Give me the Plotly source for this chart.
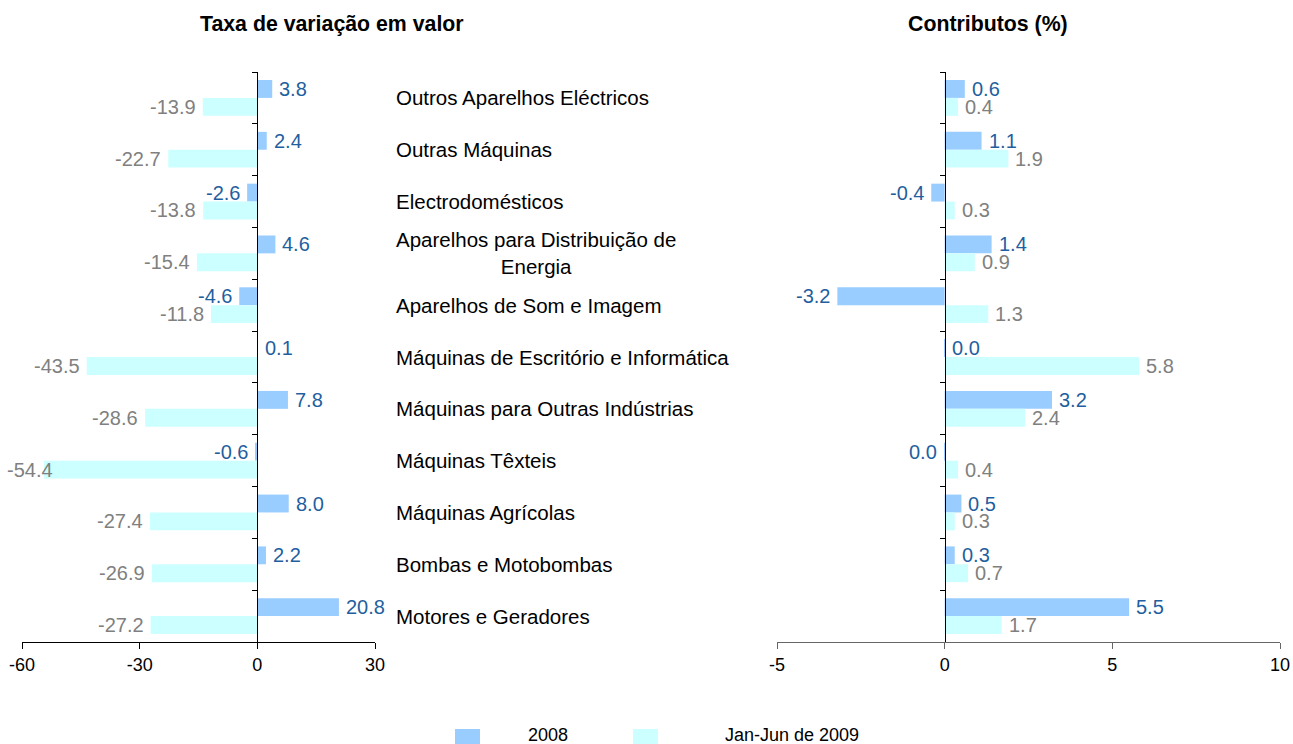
import plotly.graph_objects as go

categories = [
    "Outros Aparelhos Eléctricos",
    "Outras Máquinas",
    "Electrodomésticos",
    "Aparelhos para Distribuição de<br>Energia",
    "Aparelhos de Som e Imagem",
    "Máquinas de Escritório e Informática",
    "Máquinas para Outras Indústrias",
    "Máquinas Têxteis",
    "Máquinas Agrícolas",
    "Bombas e Motobombas",
    "Motores e Geradores",
]
cat_keys = [f"c{i}" for i in range(len(categories))]

taxa_2008 = [3.8, 2.4, -2.6, 4.6, -4.6, 0.1, 7.8, -0.6, 8.0, 2.2, 20.8]
taxa_2009 = [-13.9, -22.7, -13.8, -15.4, -11.8, -43.5, -28.6, -54.4, -27.4, -26.9, -27.2]
contrib_2008 = [0.6, 1.1, -0.4, 1.4, -3.2, 0.01, 3.2, -0.01, 0.5, 0.3, 5.5]
contrib_2009 = [0.4, 1.9, 0.3, 0.9, 1.3, 5.8, 2.4, 0.4, 0.3, 0.7, 1.7]

series_names = ["2008", "Jan-Jun de 2009"]
left_ticks = [-60, -30, 0, 30]
right_ticks = [-5, 0, 5, 10]

C2008 = "#99CCFF"
C2009 = "#CCFFFF"
LBL2008 = "#1F5FA0"
LBL2009 = "#808080"
FONT = "Liberation Sans, Arial, sans-serif"

W, H = 1293, 744
ML, MR, MT, MB = 22, 13, 72, 102
PW = W - ML - MR
PH = H - MT - MB
BARGAP = 0.31


def px_x(p):
    return (p - ML) / PW


def px_y(p):
    return (H - MB - p) / PH


def fmt(v):
    return "0.0" if round(v, 1) == 0 else f"{v:.1f}"


left_dom = [0, px_x(375)]
right_dom = [px_x(777), 1.0]
left_range = [-60, 30]
right_range = [-5, 10]
left_zero = left_dom[0] + (0 - left_range[0]) / (left_range[1] - left_range[0]) * (left_dom[1] - left_dom[0])
right_zero = right_dom[0] + (0 - right_range[0]) / (right_range[1] - right_range[0]) * (right_dom[1] - right_dom[0])

fig = go.Figure()
annotations = []
half = (1 - BARGAP) / 4  # centre offset of each bar within a category

for vals, col, lc, name, xa, ya, off, xr in [
    (taxa_2008, C2008, LBL2008, series_names[0], "x", "y", -half, left_range),
    (taxa_2009, C2009, LBL2009, series_names[1], "x", "y", half, left_range),
    (contrib_2008, C2008, LBL2008, series_names[0], "x2", "y2", -half, right_range),
    (contrib_2009, C2009, LBL2009, series_names[1], "x2", "y2", half, right_range),
]:
    fig.add_trace(go.Bar(
        x=vals, y=cat_keys, orientation="h", name=name,
        marker=dict(color=col, line=dict(width=0)),
        xaxis=xa, yaxis=ya, showlegend=False, hoverinfo="x+y",
    ))
    for i, v in enumerate(vals):
        if v >= 0:
            anchor, shift = "left", 5
        else:
            anchor, shift = "right", -5
            # label pushed back over the bar when the bar reaches the axis edge
            if (v - xr[0]) / (xr[1] - xr[0]) < 0.1:
                shift = 11
        annotations.append(dict(
            x=v, y=i + off, xref=xa, yref=ya, text=fmt(v), showarrow=False,
            xanchor=anchor, yanchor="middle", xshift=shift,
            font=dict(size=20, color=lc, family=FONT),
        ))

yax_common = dict(
    type="category", categoryorder="array", categoryarray=cat_keys,
    range=[10.5, -0.5], showticklabels=False, showgrid=False, zeroline=False,
    showline=True, linecolor="#000000", linewidth=1,
    ticks="outside", ticklen=5, tickcolor="#000000", tickson="boundaries",
    domain=[0, 1], anchor="free", automargin=False,
)
xax_common = dict(
    showgrid=False, zeroline=False, showline=True, linewidth=1, automargin=False,
    ticks="outside", ticklen=6, tickfont=dict(size=18, color="#000000", family=FONT),
)

fig.update_layout(
    width=W, height=H,
    margin=dict(l=ML, r=MR, t=MT, b=MB, autoexpand=False),
    paper_bgcolor="white", plot_bgcolor="white",
    barmode="group", bargap=BARGAP, bargroupgap=0,
    font=dict(family=FONT, color="#000000"),
    xaxis=dict(domain=left_dom, range=left_range, tickvals=left_ticks,
               ticktext=[str(t) for t in left_ticks],
               linecolor="#000000", tickcolor="#000000", anchor="y", **xax_common),
    yaxis=dict(position=left_zero, **yax_common),
    xaxis2=dict(domain=right_dom, range=right_range, tickvals=right_ticks,
                ticktext=[str(t) for t in right_ticks],
                linecolor="#666666", tickcolor="#666666", anchor="y2", **xax_common),
    yaxis2=dict(position=right_zero, **yax_common),
)

for key, label in zip(cat_keys, categories):
    annotations.append(dict(
        x=px_x(394), xref="paper", y=key, yref="y", text=label,
        xanchor="left", yanchor="middle", align="center", showarrow=False,
        font=dict(size=20.5, color="#000000", family=FONT),
    ))

annotations.append(dict(x=px_x(332), xref="paper", y=px_y(24), yref="paper",
                        text="<b>Taxa de variação em valor</b>", showarrow=False,
                        xanchor="center", yanchor="middle",
                        font=dict(size=21.3, color="#000000", family=FONT)))
annotations.append(dict(x=px_x(988), xref="paper", y=px_y(24), yref="paper",
                        text="<b>Contributos (%)</b>", showarrow=False,
                        xanchor="center", yanchor="middle",
                        font=dict(size=21.3, color="#000000", family=FONT)))

# legend
legend_items = [(455, 548, C2008, series_names[0]), (633, 792, C2009, series_names[1])]
shapes = []
for rx, tx, col, name in legend_items:
    shapes.append(dict(type="rect", xref="paper", yref="paper",
                       x0=px_x(rx), x1=px_x(rx + 25), y0=px_y(744), y1=px_y(729),
                       fillcolor=col, line=dict(width=0)))
    annotations.append(dict(x=px_x(tx), xref="paper", y=px_y(735), yref="paper",
                            text=name, showarrow=False, xanchor="center", yanchor="middle",
                            font=dict(size=18, color="#000000", family=FONT)))

fig.update_layout(annotations=annotations, shapes=shapes)

fig.write_html("out.html", config={"displayModeBar": False},
               post_script="document.body.style.margin='0';document.body.style.overflow='hidden';")
